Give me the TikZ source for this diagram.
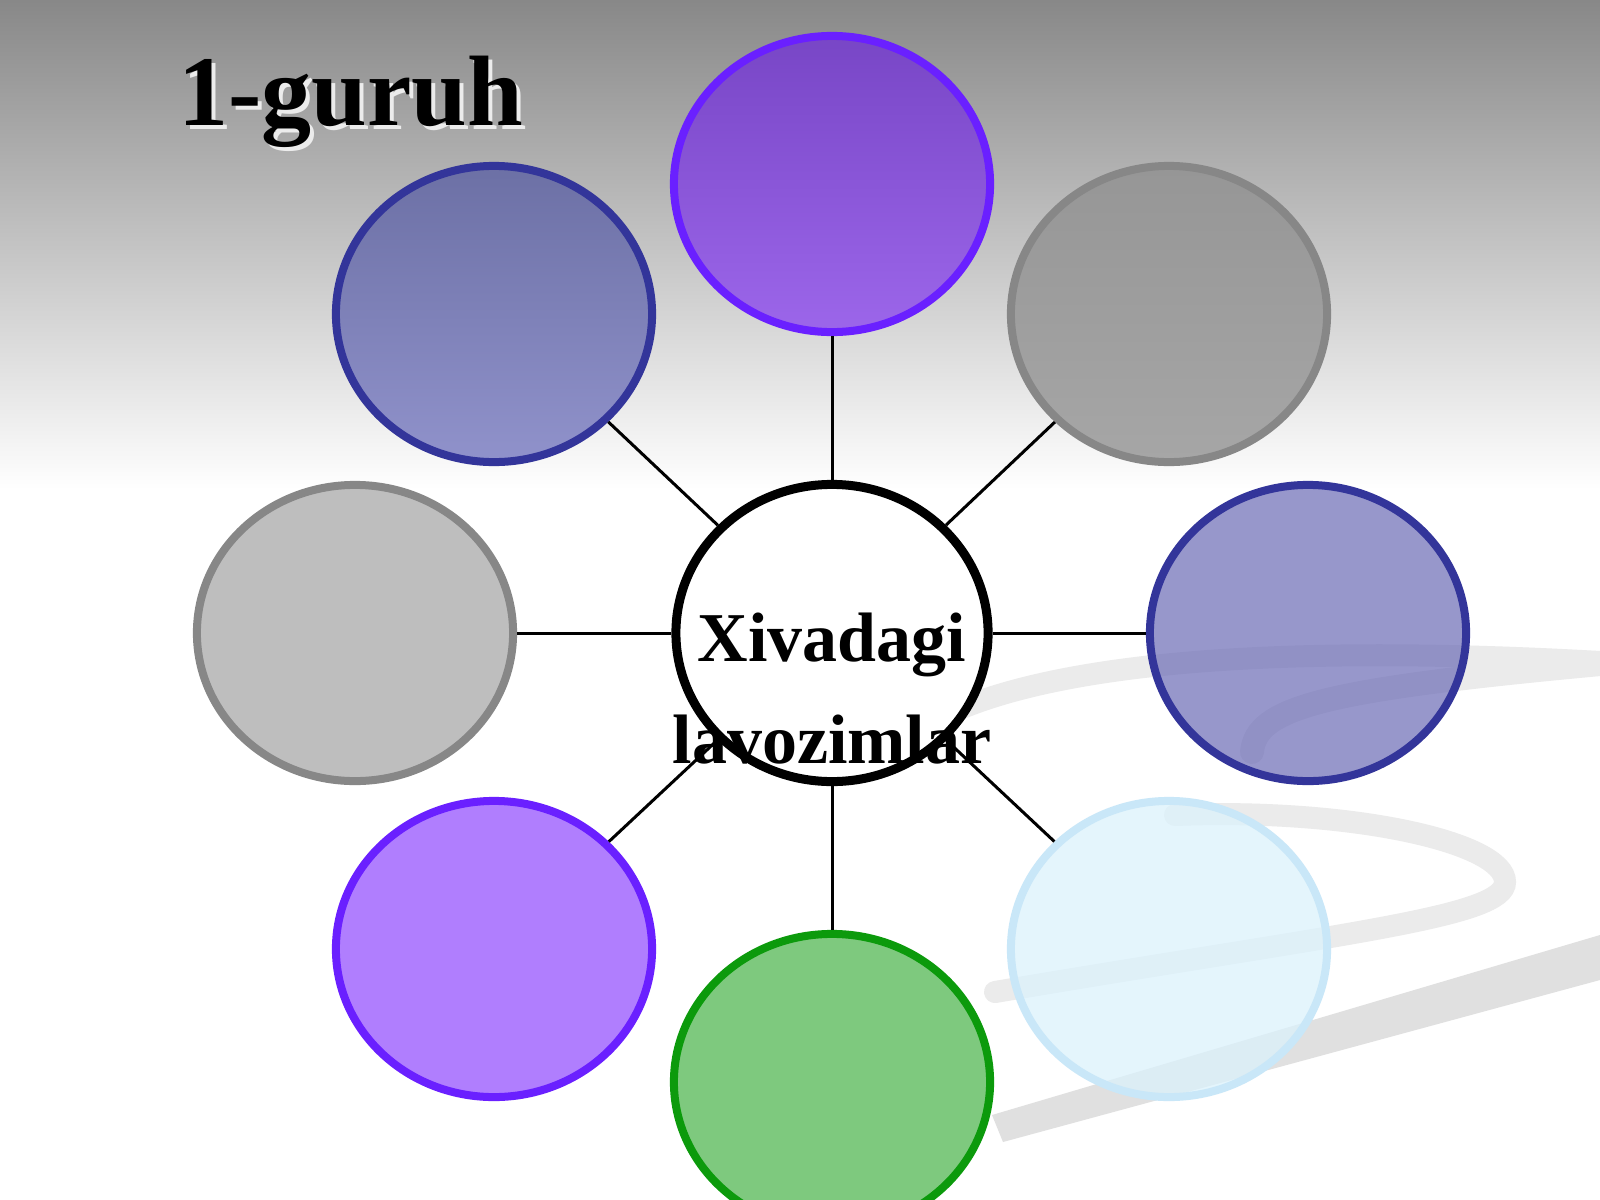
\documentclass[tikz,border=0pt]{standalone}
\usepackage{fontspec}
\setmainfont{Liberation Serif}
\usetikzlibrary{shapes.geometric}
\definecolor{bgtop}{HTML}{888888}
\definecolor{swoosh}{HTML}{EBEBEB}
\definecolor{wedge}{HTML}{E0E0E0}
\definecolor{violet}{HTML}{6A20FF}
\definecolor{navy}{HTML}{33359A}
\definecolor{ash}{HTML}{878787}
\definecolor{leaf}{HTML}{0C9A0C}
\definecolor{ice}{HTML}{C9E7F8}
\definecolor{plumtop}{HTML}{7846C6}
\definecolor{plumbot}{HTML}{9C66EA}
\definecolor{greytop}{HTML}{969696}
\definecolor{greybot}{HTML}{A6A6A6}
\definecolor{slate}{HTML}{6C6CB6}
\definecolor{frost}{HTML}{DBF2FC}
\definecolor{mint}{HTML}{7EC97E}
\definecolor{lilac}{HTML}{B07EFE}
\definecolor{silver}{HTML}{BEBEBE}
\definecolor{dusktop}{HTML}{6C70A5}
\definecolor{duskbot}{HTML}{9092CB}
\begin{document}
\begin{tikzpicture}[x=0.01cm, y=-0.01cm, line width=0.03cm,
  main/.style = {draw, ellipse, line width=0.08cm, minimum width=3.16cm, minimum height=2.96cm, inner sep=0pt},
  hub/.style = {main, line width=0.09cm, minimum width=3.12cm, minimum height=2.97cm, fill=white},
  word/.style = {inner sep=0pt, anchor=base, font=\bfseries\fontsize{19.9}{24}\selectfont},
  head/.style = {inner sep=0pt, anchor=base west, font=\bfseries\fontsize{28.45}{34}\selectfont}]
  \clip (0,0) rectangle (1600,1200);
  \fill[white] (0,0) rectangle (1600,1200);
  \shade[top color=bgtop, bottom color=white] (0,0) rectangle (1600,490);
  % background swoosh
  \draw[swoosh, line width=0.22cm, line cap=round] (962,708) .. controls (1080,660) and (1300,645) .. (1600,662);
  \draw[swoosh, line width=0.24cm, line cap=round] (1252,752) .. controls (1256,708) and (1320,690) .. (1600,664);
  \draw[swoosh, line width=0.22cm, line cap=round] (1175,815) .. controls (1350,808) and (1505,842) .. (1505,882) .. controls (1505,917) and (1350,932) .. (995,992);
  \fill[wedge] (1600,935) -- (1600,980) -- (1003,1142) -- (992,1115) -- cycle;

  \node[head, text=gray!15] (shadow) at (181,129) {1-guruh};
  \node[head] (title) at (177,125) {1-guruh};

  \node[hub] (0) at (832,633) {};
  \node[main, draw=violet, top color=plumtop, bottom color=plumbot] (1) at (832,184) {};
  \node[main, draw=ash, top color=greytop, bottom color=greybot] (2) at (1169,314) {};
  \node[main, draw=navy, fill=slate, fill opacity=0.7] (3) at (1308,633) {};
  \node[main, draw=ice, fill=frost, fill opacity=0.75] (4) at (1169,949) {};
  \node[main, draw=leaf, fill=mint] (5) at (832,1082) {};
  \node[main, draw=violet, fill=lilac] (6) at (494,949) {};
  \node[main, draw=ash, fill=silver] (7) at (355,633) {};
  \node[main, draw=navy, top color=dusktop, bottom color=duskbot] (8) at (494,314) {};

  \draw[-] (0) -- (1);
  \draw[-] (0) -- (2);
  \draw[-] (0) -- (3);
  \draw[-] (0) -- (4);
  \draw[-] (0) -- (5);
  \draw[-] (0) -- (6);
  \draw[-] (0) -- (7);
  \draw[-] (0) -- (8);

  \node[word] (upper) at (832,661) {Xivadagi};
  \node[word] (lower) at (832,763) {lavozimlar};
\end{tikzpicture}
\end{document}
